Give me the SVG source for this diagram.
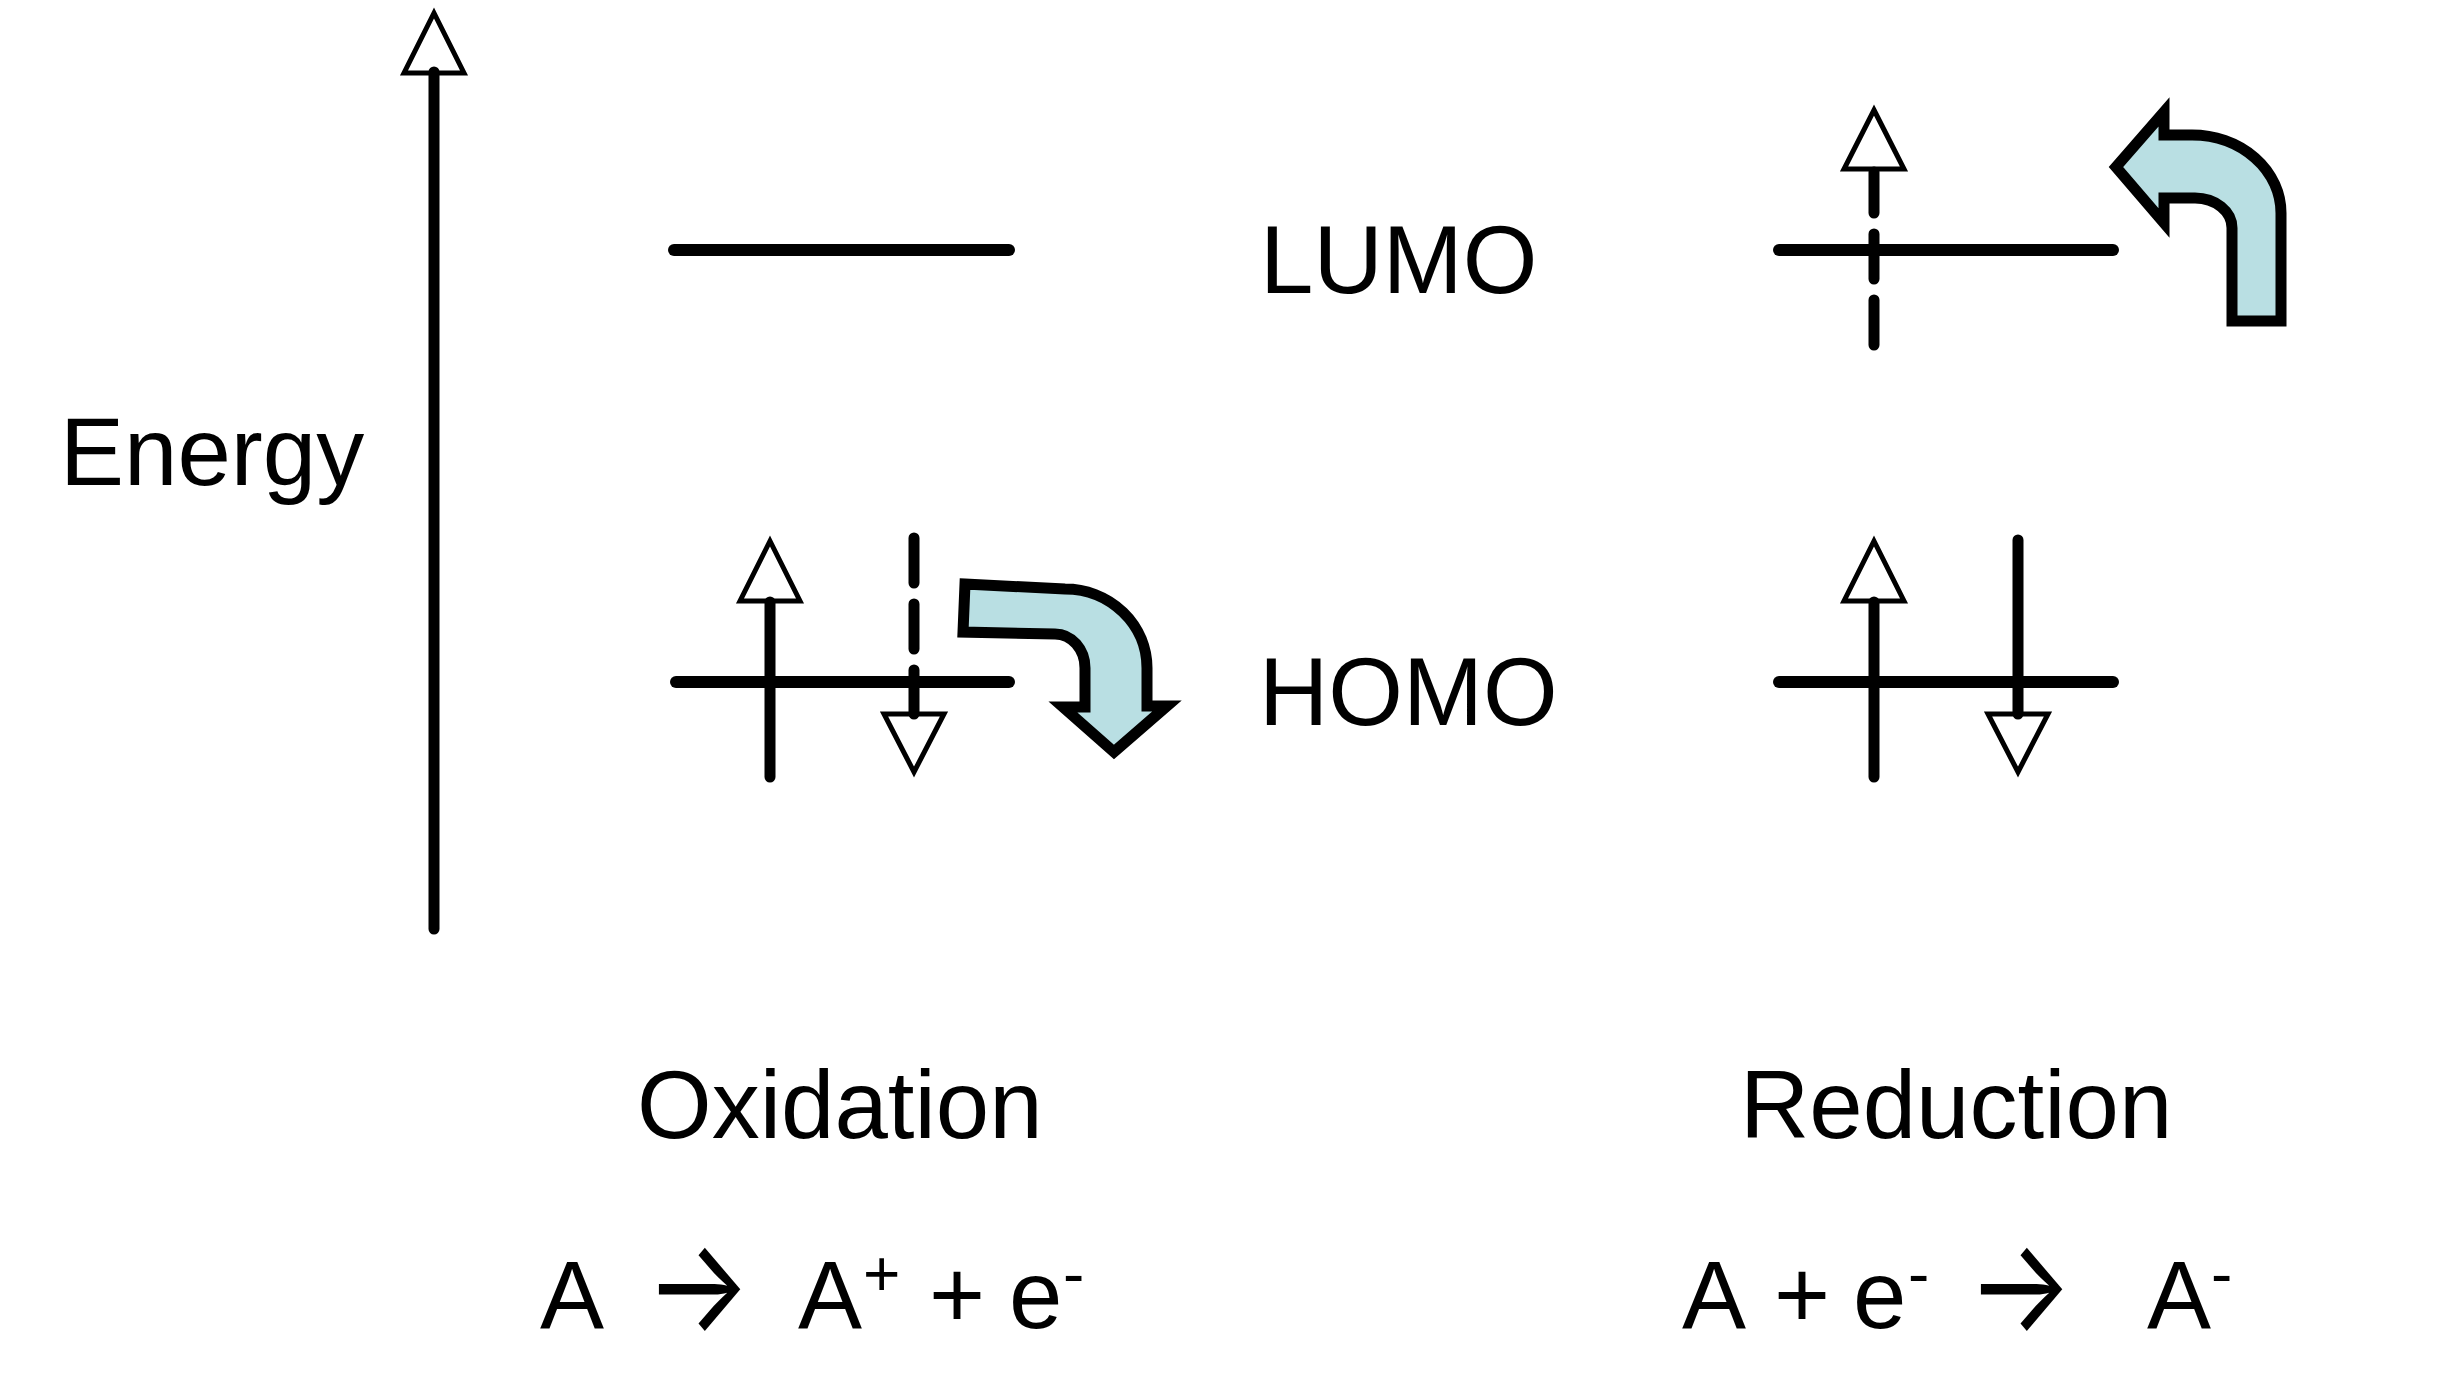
<svg xmlns="http://www.w3.org/2000/svg" width="2452" height="1388" viewBox="0 0 2452 1388">
<style>
.lvl{stroke:#000;stroke-width:12;stroke-linecap:round;fill:none}
.spin{stroke:#000;stroke-width:11;stroke-linecap:round;fill:none}
.dash{stroke-dasharray:45 21}
.head{fill:#fff;stroke:#000;stroke-width:5;stroke-linejoin:miter;stroke-miterlimit:10}
.bent{fill:#B9DFE3;stroke:#000;stroke-width:11;stroke-linejoin:miter;stroke-miterlimit:10}
.t{font-family:"Liberation Sans",Arial,sans-serif;font-size:96px;fill:#000}
.sup{font-size:64px}
.arr{font-family:Inter,"DejaVu Sans",sans-serif;font-size:96px;font-weight:400;fill:#000}
</style>
<rect width="2452" height="1388" fill="#fff"/>
<g id="energy-axis">
<polygon class="head" points="434,13 464,73 404,73"/>
<path class="spin" d="M434,929 L434,72"/>
<text class="t" x="60" y="485">Energy</text>
</g>
<g id="lumo-oxidation">
<path class="lvl" d="M674,250 L1009,250"/>
</g>
<g id="homo-oxidation">
<path class="lvl" d="M676,682 L1009,682"/>
<polygon class="head" points="770,541 800,601 740,601"/>
<path class="spin" d="M770,777 L770,602"/>
<polygon class="head" points="884,714 944,714 914,772"/>
<path class="spin dash" d="M914,538 L914,714"/>
</g>
<g id="lumo-reduction">
<path class="lvl" d="M1779,250 L2113,250"/>
<polygon class="head" points="1874,110 1904,169 1844,169"/>
<path class="spin dash" d="M1874,345 L1874,172"/>
</g>
<g id="homo-reduction">
<path class="lvl" d="M1779,682 L2113,682"/>
<polygon class="head" points="1874,541 1904,601 1844,601"/>
<path class="spin" d="M1874,777 L1874,602"/>
<polygon class="head" points="1988,714 2048,714 2018,772"/>
<path class="spin" d="M2018,540 L2018,714"/>
</g>
<g id="level-labels">
<text class="t" x="1260" y="293">LUMO</text>
<text class="t" x="1259" y="725">HOMO</text>
</g>
<g id="connectors">
<path class="bent" d="M965,584 L1065,589 A82 79 0 0 1 1147,668 L1147,706 L1167,706 L1114,752 L1063,707 L1085,707 L1085,668 A30 34 0 0 0 1055,634 L963,632 Z"/>
<path class="bent" d="M2232,321 L2281,321 L2281,213 A89 78 0 0 0 2192,135 L2164,135 L2164,112 L2116,167 L2164,223 L2164,198 L2195,198 A37 30 0 0 1 2232,228 Z"/>
</g>
<g id="oxidation-label">
<text class="t" x="637" y="1138">Oxidation</text>
<text class="t" y="1328"><tspan x="540">A</tspan><tspan x="798">A</tspan><tspan class="sup" x="863" y="1296">+</tspan><tspan x="929" y="1328">+</tspan><tspan x="1009">e</tspan><tspan class="sup" x="1063" y="1296">-</tspan></text>
<text class="arr" transform="translate(645,1331) scale(1.16,1.36)">→</text>
</g>
<g id="reduction-label">
<text class="t" x="1740" y="1138">Reduction</text>
<text class="t" y="1328"><tspan x="1682">A</tspan><tspan x="1774">+</tspan><tspan x="1853">e</tspan><tspan class="sup" x="1908" y="1296">-</tspan><tspan x="2147" y="1328">A</tspan><tspan class="sup" x="2211" y="1296">-</tspan></text>
<text class="arr" transform="translate(1967,1331) scale(1.16,1.36)">→</text>
</g>
</svg>
